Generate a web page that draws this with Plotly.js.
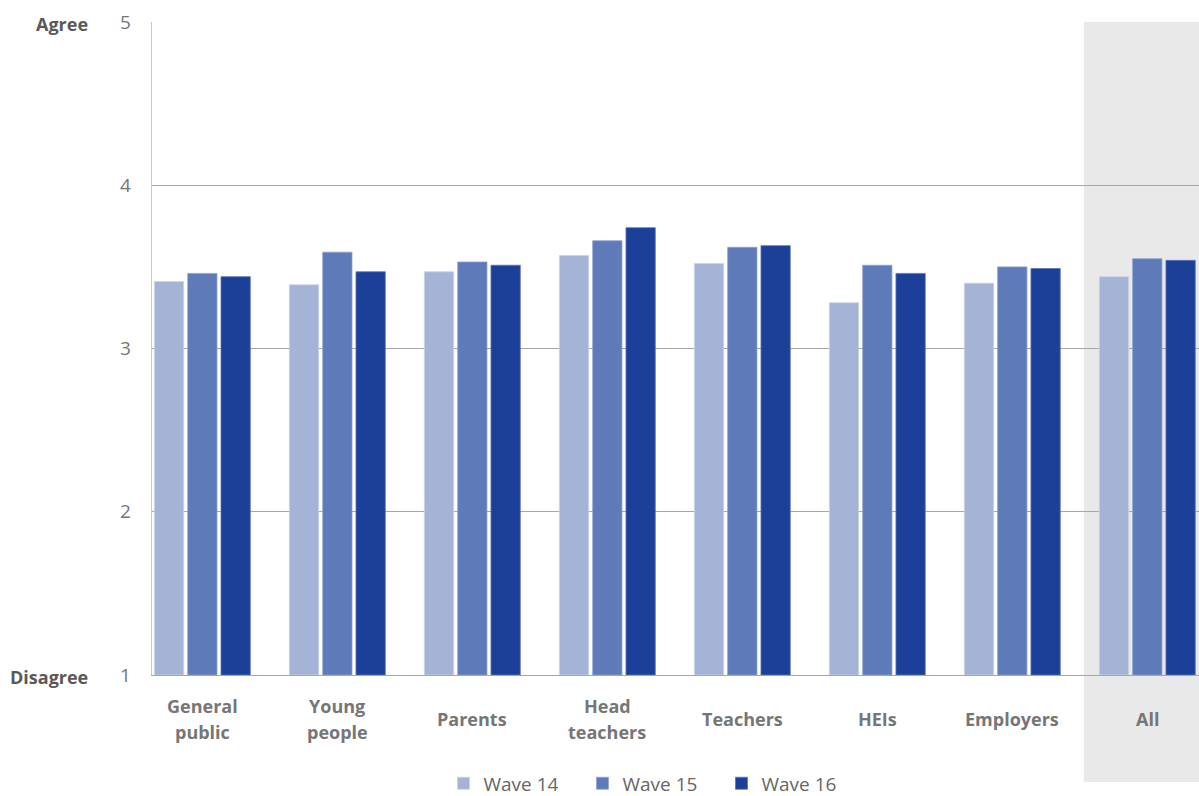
<!DOCTYPE html>
<html>
<head>
<meta charset="utf-8">
<script src="https://cdn.plot.ly/plotly-3.0.1.min.js"></script>
<style>html,body{margin:0;padding:0;background:#fff;}#chart{width:1199px;height:796px;}</style>
</head>
<body>
<div id="chart"></div>
<script>
const categories = ["General public", "Young people", "Parents", "Head teachers", "Teachers", "HEIs", "Employers", "All"];
const categoryLabels = ["General<br>public", "Young<br>people", "Parents", "Head<br>teachers", "Teachers", "HEIs", "Employers", "All"];
const seriesNames = ["Wave 14", "Wave 15", "Wave 16"];
const wave14 = [3.41, 3.39, 3.47, 3.57, 3.52, 3.28, 3.40, 3.44];
const wave15 = [3.46, 3.59, 3.53, 3.66, 3.62, 3.51, 3.50, 3.55];
const wave16 = [3.44, 3.47, 3.51, 3.74, 3.63, 3.46, 3.49, 3.54];
const yTicks = [1, 2, 3, 4, 5];
const scaleLabels = {1: "Disagree", 5: "Agree"};

const colors = ["#A5B3D7", "#5E7AB8", "#1C3F97"];
const outline = ["#C9D2EA", "#8FA2D0", "#5A74B8"];
const seriesValues = [wave14, wave15, wave16];
const FONT = '"Open Sans", "Segoe UI", sans-serif';

const traces = seriesValues.map((vals, i) => ({
  type: 'bar',
  name: seriesNames[i],
  x: categories,
  y: vals.map(v => v - 1),
  base: 1,
  marker: {color: colors[i], line: {color: outline[i], width: 0.8}},
  hoverinfo: 'x+name'
}));

const PLOT_H = 653;
const annotations = [];
categories.forEach((c, i) => {
  const lines = categoryLabels[i].split('<br>');
  const lh = 26;
  lines.forEach((ln, j) => {
    const offsetPx = (j - (lines.length - 1) / 2) * lh;
    annotations.push({
      xref: 'x', yref: 'paper', x: c, y: -(44 + offsetPx) / PLOT_H,
      xanchor: 'center', yanchor: 'middle',
      text: '<b>' + ln + '</b>',
      showarrow: false,
      font: {family: FONT, size: 18, color: '#767676'}
    });
  });
});
Object.keys(scaleLabels).forEach(k => {
  annotations.push({
    xref: 'paper', yref: 'y', x: -0.0592, y: Number(k),
    xanchor: 'right', yanchor: 'middle', yshift: -2,
    text: '<b>' + scaleLabels[k] + '</b>',
    showarrow: false,
    font: {family: FONT, size: 18, color: '#595959'}
  });
});

const layout = {
  width: 1199, height: 796,
  margin: {l: 152, r: 0, t: 22, b: 121, pad: 0, autoexpand: false},
  paper_bgcolor: '#ffffff',
  plot_bgcolor: 'rgba(0,0,0,0)',
  barmode: 'group',
  bargap: 0.26,
  bargroupgap: 0.12,
  font: {family: FONT, color: '#7f7f7f'},
  xaxis: {
    type: 'category',
    range: [-0.373, 7.383],
    showticklabels: false,
    showgrid: false,
    showline: true, linecolor: '#a6a6a6', linewidth: 1.3,
    ticks: '', zeroline: false, fixedrange: true
  },
  yaxis: {
    range: [1, 5],
    tickvals: yTicks,
    ticktext: yTicks.map(String),
    showgrid: true, gridcolor: '#a6a6a6', gridwidth: 1,
    showline: true, linecolor: '#c8c8c8', linewidth: 1.3,
    ticks: '', zeroline: false,
    ticklabelstandoff: 16,
    tickfont: {family: FONT, size: 19, color: '#767676'},
    fixedrange: true
  },
  shapes: [{
    type: 'rect', xref: 'paper', yref: 'paper', layer: 'below',
    x0: 0.890, x1: 1.0, y0: -0.164, y1: 1.0,
    fillcolor: '#e9e9e9', line: {width: 0}
  }],
  annotations: annotations,
  showlegend: true,
  legend: {
    orientation: 'h', x: 0.2784, xanchor: 'left', y: -0.166, yanchor: 'middle',
    font: {family: FONT, size: 19, color: '#666666'},
    entrywidth: 94, traceorder: 'normal', itemwidth: 30,
    tracegroupgap: 0
  }
};

Plotly.newPlot('chart', traces, layout, {displayModeBar: false, staticPlot: true});
</script>
</body>
</html>
